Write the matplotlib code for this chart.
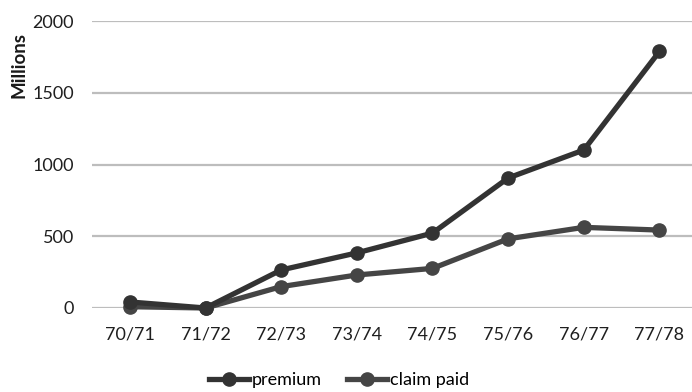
import matplotlib
matplotlib.use("Agg")
import matplotlib.pyplot as plt

seasons = ["70/71", "71/72", "72/73", "73/74", "74/75", "75/76", "76/77", "77/78"]
premium = [42, 0, 265, 384, 522, 906, 1101, 1788]
claim_paid = [9, 0, 149, 230, 276, 482, 562, 543]
y_ticks = [0, 500, 1000, 1500, 2000]

plt.rcParams["font.family"] = ["Lato", "DejaVu Sans"]

fig = plt.figure(figsize=(6.92, 3.92), dpi=100)
ax = fig.add_axes([0.133, 0.2143, 0.867, 0.7321])

x = list(range(len(seasons)))
ax.plot(x, premium, color="#333333", lw=3.8, marker="o", ms=9.5,
        label="premium", clip_on=False, zorder=4)
ax.plot(x, claim_paid, color="#454545", lw=3.8, marker="o", ms=9.5,
        label="claim paid", clip_on=False, zorder=3)

ax.set_xlim(-0.5, 7.43)
ax.set_ylim(0, 2000)
ax.set_yticks(y_ticks)
ax.set_xticks(x)
ax.set_xticklabels(seasons)
ax.yaxis.grid(True, color="#bdbdbd", lw=1.6)
ax.set_axisbelow(True)
for s in ax.spines.values():
    s.set_visible(False)
ax.tick_params(axis="both", length=0, labelsize=13, colors="#1f1f1f")
ax.tick_params(axis="x", pad=13)
ax.tick_params(axis="y", pad=13)

fig.text(0.027, 0.835, "Millions", rotation=90, ha="center", va="center",
         fontsize=13.5, fontweight="bold", color="#1a1a1a")

fig.legend(loc="center", bbox_to_anchor=(0.49, 0.03), ncol=2, frameon=False,
           fontsize=13, handlelength=2.2, handletextpad=0.15, columnspacing=1.4)

fig.savefig("out.png", dpi=100)
